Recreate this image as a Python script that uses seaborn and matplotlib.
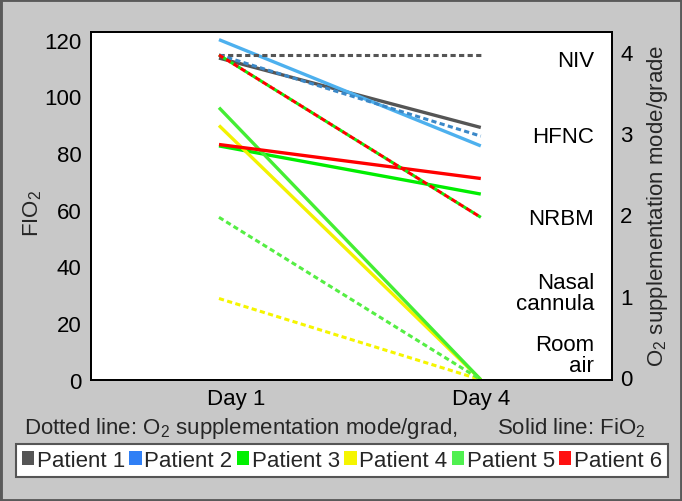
import numpy as np
import pandas as pd
import matplotlib
matplotlib.use("Agg")
import matplotlib.pyplot as plt
import seaborn as sns
from matplotlib.patches import Patch, Rectangle
from matplotlib.transforms import ScaledTranslation, blended_transform_factory

# ---------------- data ----------------
days = ["Day 1", "Day 4"]
patients = ["Patient 1", "Patient 2", "Patient 3", "Patient 4", "Patient 5", "Patient 6"]
fio2_day1 = [113.5, 120.0, 82.5, 89.7, 96.0, 83.0]
fio2_day4 = [89.0, 82.5, 65.5, 0.0, 0.0, 71.0]
mode_day1 = [4, 4, 4, 1, 2, 4]
mode_day4 = [4, 3, 2, 0, 0, 2]
fio2_ticks = [0, 20, 40, 60, 80, 100, 120]
mode_ticks = [0, 1, 2, 3, 4]
mode_names = ["Room\nair", "Nasal\ncannula", "NRBM", "HFNC", "NIV"]

solid_colors = ["#555555", "#4DB0EE", "#00EE00", "#F2F200", "#44EE33", "#FF0000"]
dotted_colors = ["#555555", "#3A88C8", "#11EE11", "#F5F500", "#55EE44", "#FF0000"]
legend_colors = ["#555555", "#2F7FF5", "#00F000", "#F5F500", "#50F050", "#FF1010"]

rows = []
for i, p in enumerate(patients):
    rows.append(dict(patient=p, x=0, fio2=fio2_day1[i], mode=mode_day1[i]))
    rows.append(dict(patient=p, x=1, fio2=fio2_day4[i], mode=mode_day4[i]))
df = pd.DataFrame(rows)

# ---------------- style ----------------
sns.set_theme(style="white")
plt.rcParams["font.family"] = ["Liberation Sans", "DejaVu Sans"]
plt.rcParams["mathtext.fontset"] = "custom"
plt.rcParams["mathtext.rm"] = "Liberation Sans"
plt.rcParams["mathtext.it"] = "Liberation Sans:italic"
plt.rcParams["mathtext.bf"] = "Liberation Sans:bold"

FS = 16
W, H = 682, 502
fig = plt.figure(figsize=(W / 100, H / 100), dpi=100, facecolor="#C8C8C8")
ax = fig.add_axes([90.7 / W, 1 - 380.7 / H, (611.7 - 90.7) / W, (380.7 - 32.7) / H])
ax.set_facecolor("white")
ax2 = ax.twinx()
ax2.patch.set_visible(False)

# solid FiO2 lines
for i, p in enumerate(patients):
    sub = df[df.patient == p]
    sns.lineplot(data=sub, x="x", y="fio2", ax=ax, color=solid_colors[i],
                 linewidth=2.4, legend=False, solid_capstyle="butt")

# dotted supplementation-mode lines
pattern = (1.7, 1.1)
for i, p in enumerate(patients):
    sub = df[df.patient == p]
    offset = 1.4 if i == 2 else 0
    sns.lineplot(data=sub, x="x", y="mode", ax=ax2, color=dotted_colors[i],
                 linewidth=2.2, legend=False, linestyle=(offset, pattern),
                 dash_capstyle="butt")

ax.set_xlim(-0.49, 1.5)
ax.set_ylim(0, 122.8)
ax2.set_ylim(0, 4.286)

ax.set_xticks([0, 1])
ax.set_xticklabels(days)
ax.set_yticks(fio2_ticks)
ax2.set_yticks(mode_ticks)
ax.set_xlabel("")
ax.set_ylabel("")
ax2.set_ylabel("")
ax2.set_xlabel("")

ax.tick_params(axis="y", length=0, pad=6.5, labelsize=FS, colors="black")
ax.tick_params(axis="x", length=0, pad=6, labelsize=FS, colors="black")
ax2.tick_params(axis="y", length=0, pad=6, labelsize=FS, colors="black")

for a in (ax, ax2):
    for s in a.spines.values():
        s.set_visible(True)
        s.set_color("black")
        s.set_linewidth(1.3)

# nudge tick labels to match the reference
lab = ax.get_xticklabels()[0]
lab.set_transform(lab.get_transform() + ScaledTranslation(0.17, 0, fig.dpi_scale_trans))
for lab in ax2.get_yticklabels():
    lab.set_transform(lab.get_transform() + ScaledTranslation(0, 0.03, fig.dpi_scale_trans))

# mode names inside the plot
label_y = [0.30, 1.07, 1.98, 3.0, 3.93]
trans = blended_transform_factory(ax2.transAxes, ax2.transData)
for name, yy in zip(mode_names, label_y):
    ax2.text(0.966, yy, name, transform=trans, ha="right", va="center",
             fontsize=FS, linespacing=1.0, multialignment="right", color="black")

# axis titles
fig.text(33 / W, 1 - 213 / H, "FIO$_2$", rotation=90, ha="center", va="center", fontsize=FS)
fig.text(657 / W, 1 - 206 / H, "O$_2$ supplementation mode/grade", rotation=90,
         ha="center", va="center", fontsize=FS)

# bottom notes
fig.text(24 / W, 1 - 434 / H, "Dotted line: O$_2$ supplementation mode/grad,",
         ha="left", va="baseline", fontsize=FS)
fig.text(646 / W, 1 - 434 / H, "Solid line: FiO$_2$", ha="right", va="baseline", fontsize=FS)

# legend
handles = [Patch(facecolor=c, edgecolor="none", label=p) for c, p in zip(legend_colors, patients)]
leg = fig.legend(handles=handles, loc="center", bbox_to_anchor=(342 / W, 1 - 461.5 / H),
                 ncol=6, fontsize=FS, handlelength=0.55, handleheight=0.55,
                 handletextpad=0.12, columnspacing=0.2, borderpad=0.25,
                 frameon=True, fancybox=False, framealpha=1, borderaxespad=0)
leg.get_frame().set_edgecolor("#555555")
leg.get_frame().set_linewidth(1.5)
leg.get_frame().set_facecolor("white")

# outer frame
fig.add_artist(Rectangle((0, 0), 1, 1, transform=fig.transFigure, fill=False,
                         edgecolor="#5A5A5A", linewidth=3.5))

fig.savefig("out.png", dpi=100, facecolor=fig.get_facecolor())
